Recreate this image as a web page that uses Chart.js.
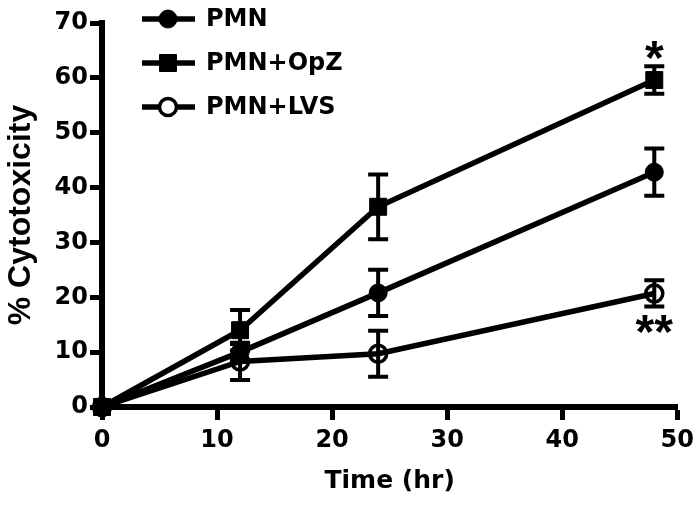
<!DOCTYPE html>
<html>
<head>
<meta charset="utf-8">
<script src="https://cdn.jsdelivr.net/npm/chart.js@4"></script>
<style>
  html, body { margin: 0; padding: 0; background: #fff; }
  #wrap { width: 700px; height: 507px; position: relative; }
</style>
</head>
<body>
<div id="wrap"><canvas id="c"></canvas></div>
<script>
// ---- data ----
const times = [0, 12, 24, 48];
const seriesNames = ['PMN', 'PMN+OpZ', 'PMN+LVS'];
const pmnValues = [0, 10.0, 20.8, 42.8];
const pmnErrors = [0, 1.5, 4.2, 4.3];
const opzValues = [0, 14.0, 36.5, 59.6];
const opzErrors = [0, 3.7, 5.9, 2.5];
const lvsValues = [0, 8.3, 9.7, 20.7];
const lvsErrors = [0, 3.4, 4.2, 2.4];
const xTicks = [0, 10, 20, 30, 40, 50];
const yTicks = [0, 10, 20, 30, 40, 50, 60, 70];
const xTitle = 'Time (hr)';
const yTitle = '% Cytotoxicity';
const significance = [
  { text: '*', series: 1, time: 48, side: 'above' },
  { text: '**', series: 2, time: 48, side: 'below' }
];

const seriesValues = [pmnValues, opzValues, lvsValues];
const seriesErrors = [pmnErrors, opzErrors, lvsErrors];
const styles = [
  { pointStyle: 'circle', pointRadius: 9, bg: '#000', bw: 1 },
  { pointStyle: 'rect', pointRadius: 12, bg: '#000', bw: 1 },
  { pointStyle: 'circle', pointRadius: 8.5, bg: 'rgba(0,0,0,0)', bw: 3.5 }
];

const datasets = seriesNames.map((name, i) => ({
  label: name,
  data: times.map((t, j) => ({ x: t, y: seriesValues[i][j] })),
  errors: seriesErrors[i],
  borderColor: '#000',
  borderWidth: 5.5,
  tension: 0,
  pointStyle: styles[i].pointStyle,
  pointRadius: styles[i].pointRadius,
  pointHoverRadius: styles[i].pointRadius,
  pointBackgroundColor: styles[i].bg,
  pointBorderColor: '#000',
  pointBorderWidth: styles[i].bw,
  clip: false,
  showLine: true
}));

const errorBarPlugin = {
  id: 'errorBars',
  beforeDatasetsDraw(chart) {
    const ctx = chart.ctx;
    const xs = chart.scales.x, ys = chart.scales.y;
    ctx.save();
    ctx.strokeStyle = '#000';
    ctx.lineWidth = 4;
    chart.data.datasets.forEach(ds => {
      ds.data.forEach((p, j) => {
        const e = ds.errors[j];
        if (!e) return;
        const px = xs.getPixelForValue(p.x);
        const top = ys.getPixelForValue(p.y + e);
        const bot = ys.getPixelForValue(p.y - e);
        ctx.beginPath();
        ctx.moveTo(px, top); ctx.lineTo(px, bot);
        ctx.moveTo(px - 10, top); ctx.lineTo(px + 10, top);
        ctx.moveTo(px - 10, bot); ctx.lineTo(px + 10, bot);
        ctx.stroke();
      });
    });
    ctx.restore();
  }
};

const annotationPlugin = {
  id: 'sigMarks',
  afterDatasetsDraw(chart) {
    const ctx = chart.ctx;
    const xs = chart.scales.x, ys = chart.scales.y;
    ctx.save();
    ctx.fillStyle = '#000';
    ctx.font = 'bold 48px "Liberation Sans"';
    ctx.textAlign = 'center';
    ctx.textBaseline = 'alphabetic';
    significance.forEach(a => {
      const j = times.indexOf(a.time);
      const v = seriesValues[a.series][j], e = seriesErrors[a.series][j];
      const px = xs.getPixelForValue(a.time);
      if (a.side === 'above') {
        ctx.fillText(a.text, px, ys.getPixelForValue(v + e) + 8);
      } else {
        ctx.fillText(a.text, px, ys.getPixelForValue(v - e) + 41);
      }
    });
    ctx.restore();
  }
};

const legendPlugin = {
  id: 'customLegend',
  afterDraw(chart) {
    const ctx = chart.ctx;
    ctx.save();
    chart.data.datasets.forEach((ds, i) => {
      const y = 19 + i * 44;
      ctx.strokeStyle = '#000';
      ctx.lineWidth = 5.5;
      ctx.beginPath();
      ctx.moveTo(142, y); ctx.lineTo(195, y);
      ctx.stroke();
      ctx.fillStyle = ds.pointBackgroundColor;
      ctx.strokeStyle = '#000';
      ctx.lineWidth = ds.pointBorderWidth;
      ctx.beginPath();
      if (ds.pointStyle === 'rect') {
        const s = ds.pointRadius * Math.SQRT1_2;
        ctx.rect(168 - s, y - s, 2 * s, 2 * s);
      } else {
        ctx.arc(168, y, ds.pointRadius, 0, Math.PI * 2);
      }
      if (ds.pointBackgroundColor !== 'rgba(0,0,0,0)') ctx.fill(); else { ctx.fillStyle = '#fff'; ctx.fill(); }
      ctx.stroke();
      ctx.fillStyle = '#000';
      ctx.font = 'bold 24px "DejaVu Sans"';
      ctx.textAlign = 'left';
      ctx.textBaseline = 'middle';
      ctx.fillText(ds.label, 206, y + 1);
    });
    ctx.restore();
  }
};

const tickFont = { family: '"DejaVu Sans"', size: 24, weight: 'bold' };

new Chart(document.getElementById('c'), {
  type: 'line',
  data: { datasets },
  options: {
    responsive: true,
    maintainAspectRatio: false,
    animation: false,
    events: [],
    layout: { padding: { top: 23, right: 22, left: 0, bottom: 0 } },
    plugins: { legend: { display: false }, tooltip: { enabled: false } },
    scales: {
      x: {
        type: 'linear',
        min: 0, max: 50,
        afterFit(s) { s.height = 100; },
        afterBuildTicks(s) { s.ticks = xTicks.map(v => ({ value: v })); },
        ticks: { color: '#000', font: tickFont, padding: 6, maxRotation: 0 },
        grid: { display: true, drawOnChartArea: false, drawTicks: true, tickLength: 13, tickWidth: 5, tickColor: '#000', color: '#000' },
        border: { display: true, width: 6, color: '#000' },
        title: { display: true, text: xTitle, color: '#000', font: { family: '"DejaVu Sans"', size: 25, weight: 'bold' }, padding: { top: 0, bottom: 11 } }
      },
      y: {
        type: 'linear',
        min: 0, max: 70,
        afterFit(s) { s.width = 102; },
        afterBuildTicks(s) { s.ticks = yTicks.map(v => ({ value: v })); },
        ticks: { color: '#000', font: tickFont, padding: 2 },
        grid: { display: true, drawOnChartArea: false, drawTicks: true, tickLength: 12, tickWidth: 5, tickColor: '#000', color: '#000' },
        border: { display: true, width: 6, color: '#000' },
        title: { display: true, text: yTitle, color: '#000', font: { family: '"Liberation Sans"', size: 32, weight: 'bold' }, padding: { top: 2, bottom: 0 } }
      }
    }
  },
  plugins: [errorBarPlugin, annotationPlugin, legendPlugin]
});
</script>
</body>
</html>
